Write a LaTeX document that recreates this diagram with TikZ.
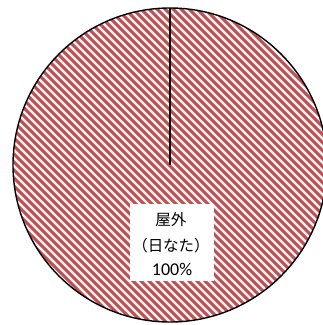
\documentclass[tikz,border=0pt]{standalone}
\usepackage{fontspec}
\setmainfont{Carlito}
\newfontfamily\jpfont{Noto Sans CJK JP}
\definecolor{stripe}{HTML}{BC5058}
\definecolor{stripebg}{HTML}{FFF4EE}
\begin{document}
\begin{tikzpicture}[x=1pt,y=-1pt,
  piecircle/.style={draw=black,line width=1.4pt},
  hatchline/.style={draw=stripe,line width=3.0pt},
  radius line/.style={draw=black,line width=1.8pt},
  labelbox/.style={fill=white,draw=none,minimum width=84pt,minimum height=77pt,inner sep=0pt},
  jptext/.style={font=\jpfont\fontsize{15.5}{18}\selectfont,inner sep=0pt},
  numtext/.style={font=\fontsize{18}{20}\selectfont,inner sep=0pt}]
\useasboundingbox (0,0) rectangle (323,325);
\coordinate (c) at (170,165);
\coordinate (top) at (170,8);
\begin{scope}
  \clip (0,0) rectangle (323,325);
  \clip (c) circle[radius=157];
  \fill[stripebg] (c) circle[radius=157];
  \foreach \k in {-400,-392,...,400}
    \draw[hatchline] (\k,-20) -- (\k+400,380);
\end{scope}
\begin{scope}
  \clip (0,0) rectangle (323,325);
  \draw[piecircle] (c) circle[radius=157];
\end{scope}
\draw[radius line] (c) -- (top);
\node[labelbox] (box) at (172,242.5) {};
\node[jptext] (t1) at (171,220) {屋外};
\node[jptext] (t2) at (171,246) {（日なた）};
\node[numtext] (t3) at (172,269) {100\%};
\end{tikzpicture}
\end{document}
